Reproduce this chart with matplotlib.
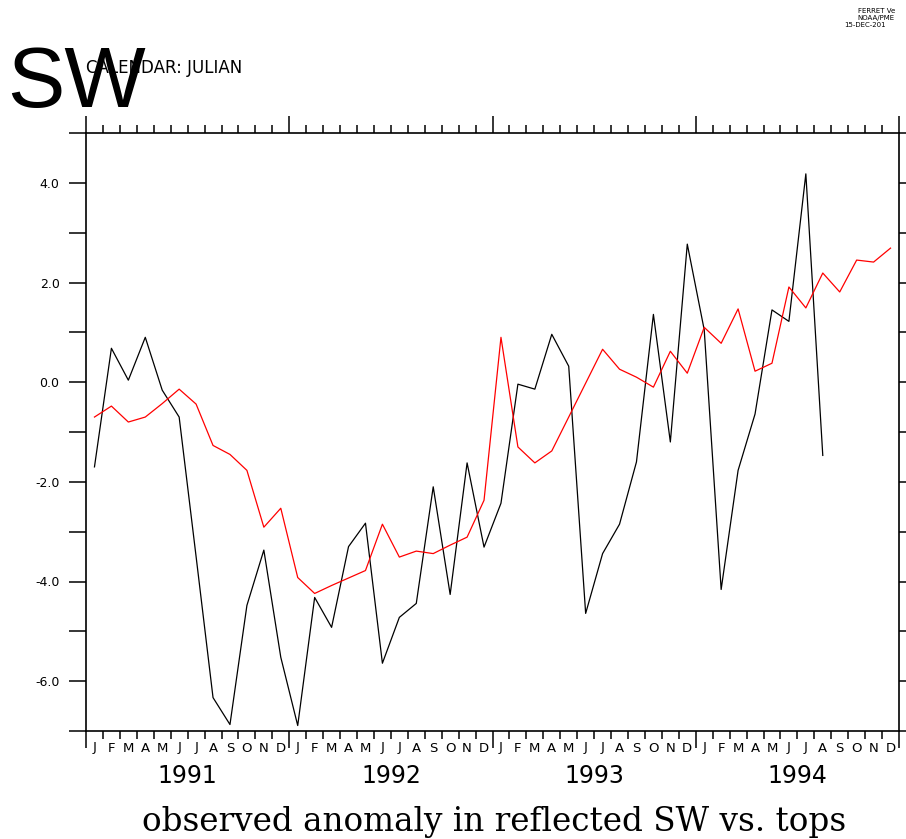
import numpy as np
import matplotlib
matplotlib.use("Agg")
import matplotlib.pyplot as plt
import matplotlib.transforms as mtransforms

# miesiace 1991-1994
month_letters = list("JFMAMJJASOND") * 4
years = ["1991", "1992", "1993", "1994"]

# anomalia obserwowana (czarna), Jan 1991 - Aug 1994
observed = [-1.70, 0.68, 0.04, 0.90, -0.16, -0.70, -3.50, -6.33, -6.87, -4.48,
            -3.37, -5.52, -6.89, -4.32, -4.92, -3.30, -2.83, -5.64, -4.72, -4.44,
            -2.10, -4.26, -1.62, -3.31, -2.43, -0.04, -0.14, 0.96, 0.32, -4.64,
            -3.44, -2.85, -1.60, 1.36, -1.20, 2.77, 1.05, -4.16, -1.77, -0.64,
            1.45, 1.22, 4.18, -1.47]

# tops (czerwona), Jan 1991 - Dec 1994
tops = [-0.70, -0.48, -0.80, -0.70, -0.43, -0.14, -0.44, -1.27, -1.45, -1.77,
        -2.91, -2.53, -3.92, -4.24, -4.08, -3.93, -3.78, -2.85, -3.51, -3.39,
        -3.44, -3.27, -3.11, -2.37, 0.90, -1.30, -1.62, -1.38, -0.70, -0.02,
        0.66, 0.26, 0.10, -0.10, 0.62, 0.18, 1.10, 0.78, 1.47, 0.22,
        0.38, 1.91, 1.49, 2.19, 1.81, 2.45, 2.41, 2.69]

W, H = 906, 839
fig = plt.figure(figsize=(W / 100, H / 100), dpi=100)
ax = fig.add_axes([86 / W, (H - 731) / H, (899 - 86) / W, (731 - 133) / H])

t_obs = np.arange(len(observed)) + 0.5
t_tops = np.arange(len(tops)) + 0.5
ax.plot(t_obs, observed, color="black", lw=0.9)
ax.plot(t_tops, tops, color="red", lw=0.9)

ax.set_xlim(0, 48)
ax.set_ylim(-7, 5)

# osie
for s in ax.spines.values():
    s.set_linewidth(1.2)

ax.set_xticks(np.arange(0, 49, 12))
ax.set_xticks(np.arange(0, 49), minor=True)
ax.set_xticklabels([])
ax.tick_params(axis="x", which="major", length=12, width=1.1, direction="out", top=True)
ax.tick_params(axis="x", which="minor", length=6, width=1.1, direction="out", top=True)

yt = np.arange(-7, 6)
ax.set_yticks(yt)
ax.set_yticklabels(["%.1f" % v if v % 2 == 0 else "" for v in yt])
ax.tick_params(axis="y", length=12, width=1.1, direction="out", right=True,
               labelsize=9, pad=7)

trans = mtransforms.blended_transform_factory(ax.transData, fig.transFigure)
for i, m in enumerate(month_letters):
    ax.text(i + 0.5, (H - 748) / H, m, transform=trans, ha="center", va="center",
            fontsize=9.5)
for k, y in enumerate(years):
    ax.text(k * 12 + 6, (H - 776) / H, y, transform=trans, ha="center", va="center",
            fontsize=17)

fig.text(494 / W, (H - 822) / H, "observed anomaly in reflected SW vs. tops",
         ha="center", va="center", fontsize=23.5, family="DejaVu Serif")

fig.text(7 / W, (H - 85) / H, "SW", ha="left", va="center", fontsize=62,
         family="Liberation Sans")
fig.text(86 / W, (H - 68) / H, "CALENDAR: JULIAN", ha="left", va="center",
         fontsize=12)

fig.text(858 / W, (H - 11) / H, "FERRET Ve", fontsize=5, va="center")
fig.text(857 / W, (H - 18) / H, "NOAA/PME", fontsize=5, va="center")
fig.text(844 / W, (H - 25) / H, "15-DEC-201", fontsize=5, va="center")

fig.savefig("out.png", dpi=100)
